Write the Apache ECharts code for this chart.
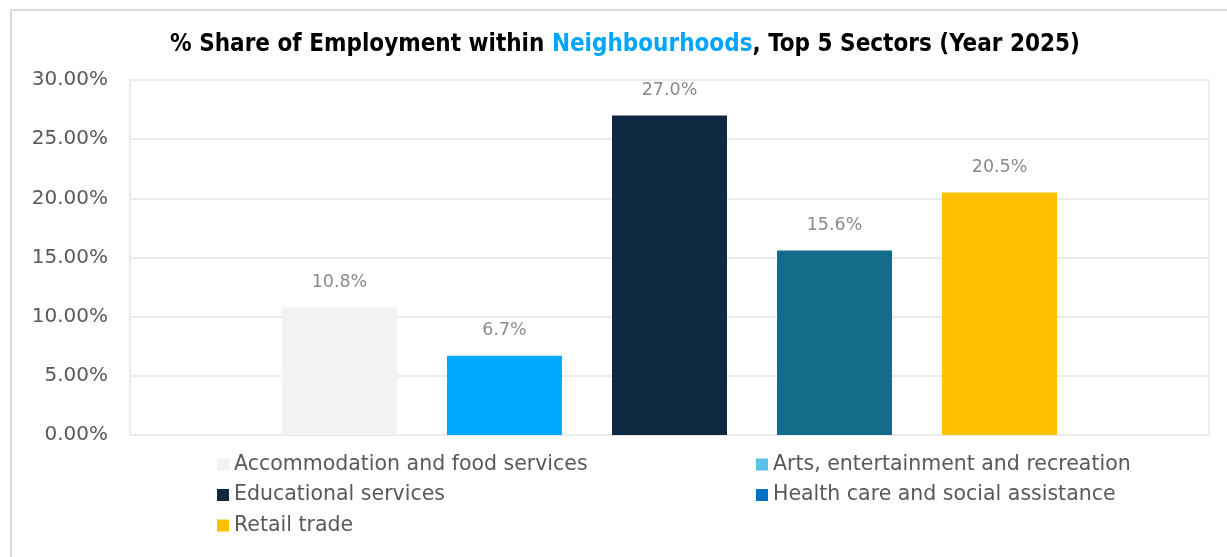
<!DOCTYPE html>
<html>
<head>
<meta charset="utf-8">
<script src="https://cdn.jsdelivr.net/npm/echarts@6/dist/echarts.min.js"></script>
<style>html,body{margin:0;padding:0;background:#fff;}#c{width:1227px;height:557px;}</style>
</head>
<body>
<div id="c"></div>
<script>
// Data
const sectors = ["Accommodation and food services", "Arts, entertainment and recreation", "Educational services", "Health care and social assistance", "Retail trade"];
const shares = [10.8, 6.7, 27.0, 15.6, 20.5];
const barColors = ["#F2F2F2", "#00A8FF", "#0E2841", "#156C8A", "#FFC000"];
const legendColors = ["#F2F2F2", "#5BC3E8", "#0E2841", "#0070C0", "#FFC000"];
const yTicks = [0, 5, 10, 15, 20, 25, 30];

const FONT = "'DejaVu Sans', sans-serif";
const TFONT = "'Liberation Sans Narrow', 'DejaVu Sans Condensed', 'Liberation Sans', sans-serif";
const chart = echarts.init(document.getElementById('c'), null, {renderer: 'canvas'});

const series = sectors.map((name, i) => ({
  name: name,
  type: 'bar',
  data: [shares[i]],
  barWidth: 115,
  barGap: '43.5%',
  itemStyle: {color: barColors[i]},
  label: {
    show: true, position: 'top', distance: 16,
    formatter: p => p.value.toFixed(1) + '%',
    color: '#8a8a8a', fontSize: 17.5, fontFamily: FONT
  },
  emphasis: {disabled: true}
}));

function legendData(idx) {
  return idx.map(i => ({name: sectors[i], itemStyle: {color: legendColors[i]}}));
}
const legendCommon = {
  orient: 'vertical', top: 454, padding: 0, itemGap: 9.5, itemWidth: 12, itemHeight: 12,
  icon: 'rect', selectedMode: false,
  textStyle: {color: '#595959', fontSize: 20.5, lineHeight: 20, fontFamily: FONT}
};

chart.setOption({
  animation: false,
  backgroundColor: '#ffffff',
  graphic: [{
    type: 'rect', shape: {x: 11, y: 10, width: 1400, height: 800},
    style: {fill: 'none', stroke: '#d9d9d9', lineWidth: 2}, silent: true, z: -10
  }],
  title: {
    text: '% Share of Employment within {a|Neighbourhoods}, Top 5 Sectors (Year 2025)',
    left: 170, top: 33, padding: 0,
    textStyle: {
      fontFamily: TFONT, fontWeight: 'bold', fontSize: 24, color: '#000000',
      rich: {a: {fontFamily: TFONT, fontWeight: 'bold', fontSize: 24, color: '#00A6FB'}}
    }
  },
  legend: [
    Object.assign({left: 217, data: legendData([0, 2, 4])}, legendCommon),
    Object.assign({left: 756, data: legendData([1, 3])}, legendCommon)
  ],
  grid: {left: 130, right: 18, top: 80, bottom: 122, show: true, borderColor: '#ebebeb', borderWidth: 2, containLabel: false},
  xAxis: {
    type: 'category', data: [''],
    axisLine: {show: false}, axisTick: {show: false}, axisLabel: {show: false}
  },
  yAxis: {
    type: 'value', min: yTicks[0], max: yTicks[yTicks.length - 1], interval: yTicks[1] - yTicks[0],
    axisLine: {show: false}, axisTick: {show: false},
    axisLabel: {color: '#595959', fontSize: 20, fontFamily: FONT, margin: 22, formatter: v => v.toFixed(2) + '%'},
    splitLine: {lineStyle: {color: '#ebebeb', width: 2}}
  },
  series: series
});
</script>
</body>
</html>
